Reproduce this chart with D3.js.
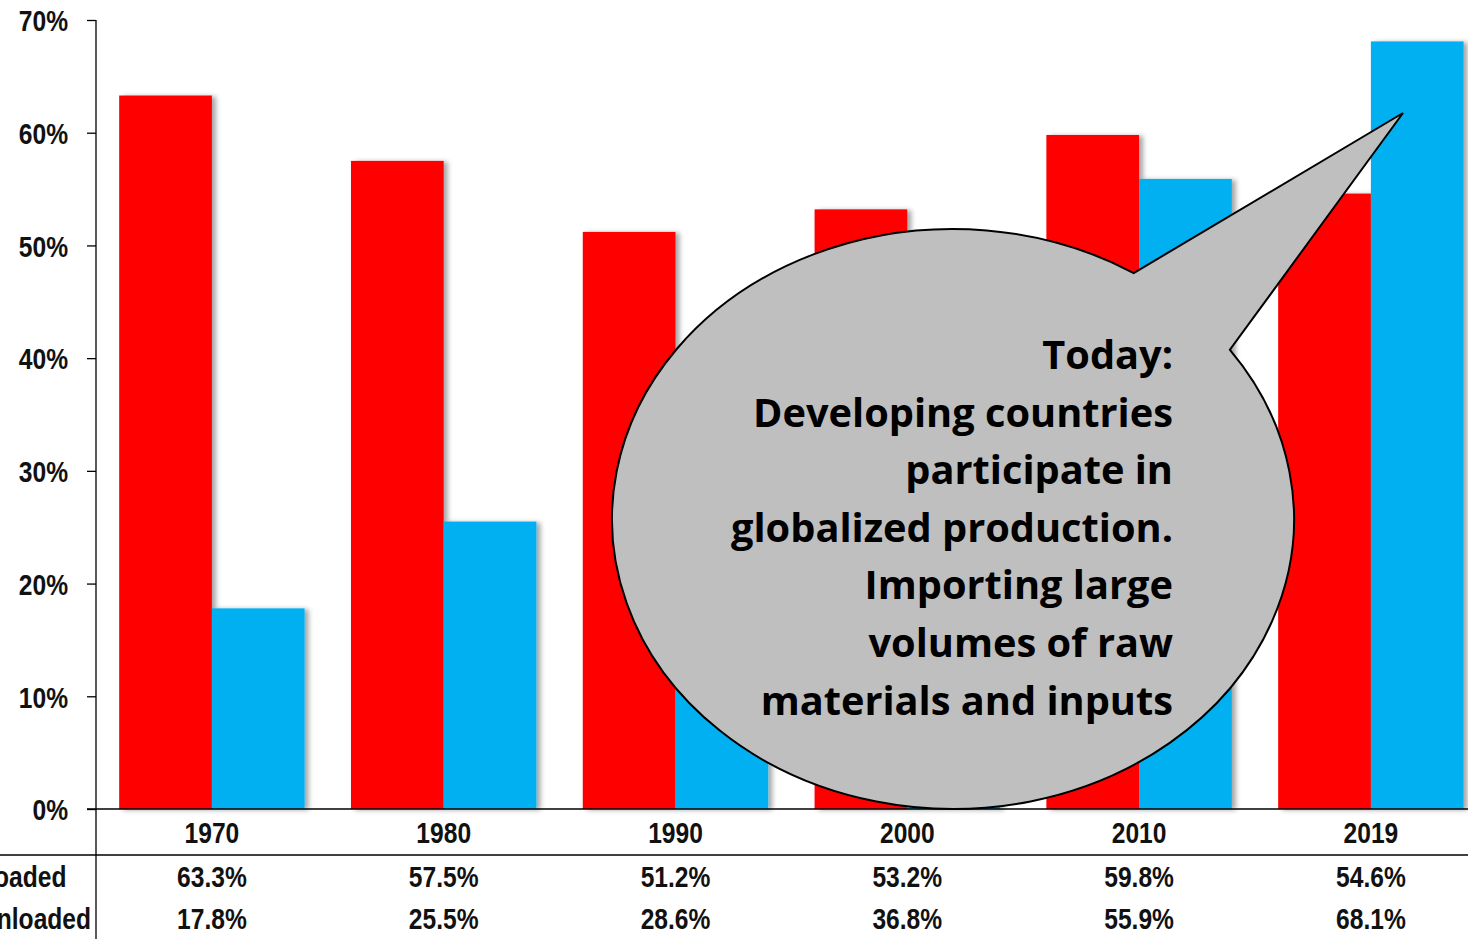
<!DOCTYPE html>
<html>
<head>
<meta charset="utf-8">
<script src="https://cdn.jsdelivr.net/npm/d3@7"></script>
<style>
  html, body { margin: 0; padding: 0; background: #fff; overflow: hidden; }
  svg { display: block; }
  .narrow { font-family: "Liberation Sans", Arial, sans-serif; font-weight: bold; fill: #111; }
  .bubble-text { font-family: "Open Sans", "Noto Sans", sans-serif; font-weight: bold; fill: #000; }
</style>
</head>
<body>
<script>
// Share of world seaborne trade, developing economies
const years = ["1970", "1980", "1990", "2000", "2010", "2019"];
const loaded = [63.3, 57.5, 51.2, 53.2, 59.8, 54.6];
const unloaded = [17.8, 25.5, 28.6, 36.8, 55.9, 68.1];
const rowLabels = ["Loaded", "Unloaded"];
const yTicks = [0, 10, 20, 30, 40, 50, 60, 70];
const bubbleLines = [
  "Today:",
  "Developing countries",
  "participate in",
  "globalized production.",
  "Importing large",
  "volumes of raw",
  "materials and inputs"
];

const W = 1468, H = 939;
const plotLeft = 96, plotTop = 20, plotBottom = 809;
const groupW = 231.8;
const squeeze = 0.82;      // condensed look for the axis and table labels
const labelSize = 30;
const colors = { loaded: "#ff0000", unloaded: "#00b0f0" };

const svg = d3.select("body").append("svg").attr("width", W).attr("height", H);

const defs = svg.append("defs");
const shadow = defs.append("filter").attr("id", "shadow")
  .attr("x", "-10%").attr("y", "-5%").attr("width", "130%").attr("height", "110%");
shadow.append("feDropShadow").attr("dx", 4).attr("dy", 1).attr("stdDeviation", 2.5)
  .attr("flood-color", "#000").attr("flood-opacity", 0.35);

const x0 = d3.scaleBand().domain(years)
  .range([plotLeft, plotLeft + groupW * years.length]).padding(0);
const sub = d3.scaleBand().domain(["loaded", "unloaded"])
  .range([0, groupW]).paddingInner(0).paddingOuter(0.25);
const y = d3.scaleLinear().domain([0, 70]).range([plotBottom, plotTop]);

// condensed label helper
function narrowText(sel, xf, yf, anchor) {
  return sel.attr("class", "narrow").attr("font-size", labelSize)
    .attr("text-anchor", anchor)
    .attr("transform", (d, i) => `translate(${xf(d, i)},${yf(d, i)}) scale(${squeeze},1)`);
}

// bars
const groups = svg.append("g").selectAll("g").data(years).join("g")
  .attr("transform", d => `translate(${x0(d)},0)`);
groups.each(function (yr, i) {
  const g = d3.select(this);
  [["loaded", loaded[i]], ["unloaded", unloaded[i]]].forEach(([k, v]) => {
    g.append("rect")
      .attr("x", sub(k)).attr("width", sub.bandwidth())
      .attr("y", y(v)).attr("height", y(0) - y(v))
      .attr("fill", colors[k]).attr("filter", "url(#shadow)");
  });
});

// y axis
const yAxis = d3.axisLeft(y).tickValues(yTicks).tickFormat(d => d + "%").tickSize(9).tickPadding(19);
const ya = svg.append("g").attr("transform", `translate(${plotLeft},0)`).call(yAxis);
ya.select(".domain").remove();
ya.selectAll(".tick line").attr("stroke", "#000").attr("stroke-width", 1.3);
ya.selectAll(".tick text")
  .attr("class", "narrow").attr("font-size", labelSize).attr("dy", "0.36em")
  .attr("x", -28 / squeeze).attr("transform", `scale(${squeeze},1)`);
svg.append("line").attr("x1", plotLeft).attr("x2", plotLeft)
  .attr("y1", plotTop).attr("y2", H).attr("stroke", "#000").attr("stroke-width", 1.3);

// x baseline and table rule
svg.append("line").attr("x1", plotLeft - 9).attr("x2", W)
  .attr("y1", plotBottom).attr("y2", plotBottom).attr("stroke", "#000").attr("stroke-width", 1.3);
svg.append("line").attr("x1", 0).attr("x2", W)
  .attr("y1", 855).attr("y2", 855).attr("stroke", "#000").attr("stroke-width", 1.3);

// category labels
narrowText(svg.append("g").selectAll("text").data(years).join("text"),
  d => x0(d) + groupW / 2, () => 843, "middle").text(d => d);

// data table
const rows = [loaded, unloaded];
const rowY = [887, 929];
rows.forEach((vals, r) => {
  narrowText(svg.append("g").selectAll("text").data(vals).join("text"),
    (d, i) => x0(years[i]) + groupW / 2, () => rowY[r], "middle")
    .text(d => d.toFixed(1) + "%");
});
narrowText(svg.append("g").selectAll("text").data(rowLabels).join("text"),
  () => -21, (d, i) => rowY[i], "start").text(d => d);

// speech bubble
const cx = 953, cy = 519, rx = 341, ry = 290;
const tip = [1403, 113];
const a1 = -58 * Math.PI / 180, a2 = -35.7 * Math.PI / 180;
const p1 = [cx + rx * Math.cos(a1), cy + ry * Math.sin(a1)];
const p2 = [cx + rx * Math.cos(a2), cy + ry * Math.sin(a2)];
svg.append("path")
  .attr("d", `M${p1}L${tip}L${p2}A${rx},${ry} 0 1 1 ${p1}Z`)
  .attr("fill", "#bfbfbf").attr("stroke", "#000").attr("stroke-width", 2)
  .attr("stroke-linejoin", "miter");

const bt = svg.append("g").selectAll("text").data(bubbleLines).join("text")
  .attr("class", "bubble-text").attr("font-size", 38).attr("text-anchor", "end")
  .attr("x", 1173).attr("y", (d, i) => 369 + i * 57.6).text(d => d);
// fit the longest line to the bubble width
const widest = d3.max(bt.nodes(), n => n.getComputedTextLength());
bt.attr("font-size", 38 * 442 / widest);
</script>
</body>
</html>
